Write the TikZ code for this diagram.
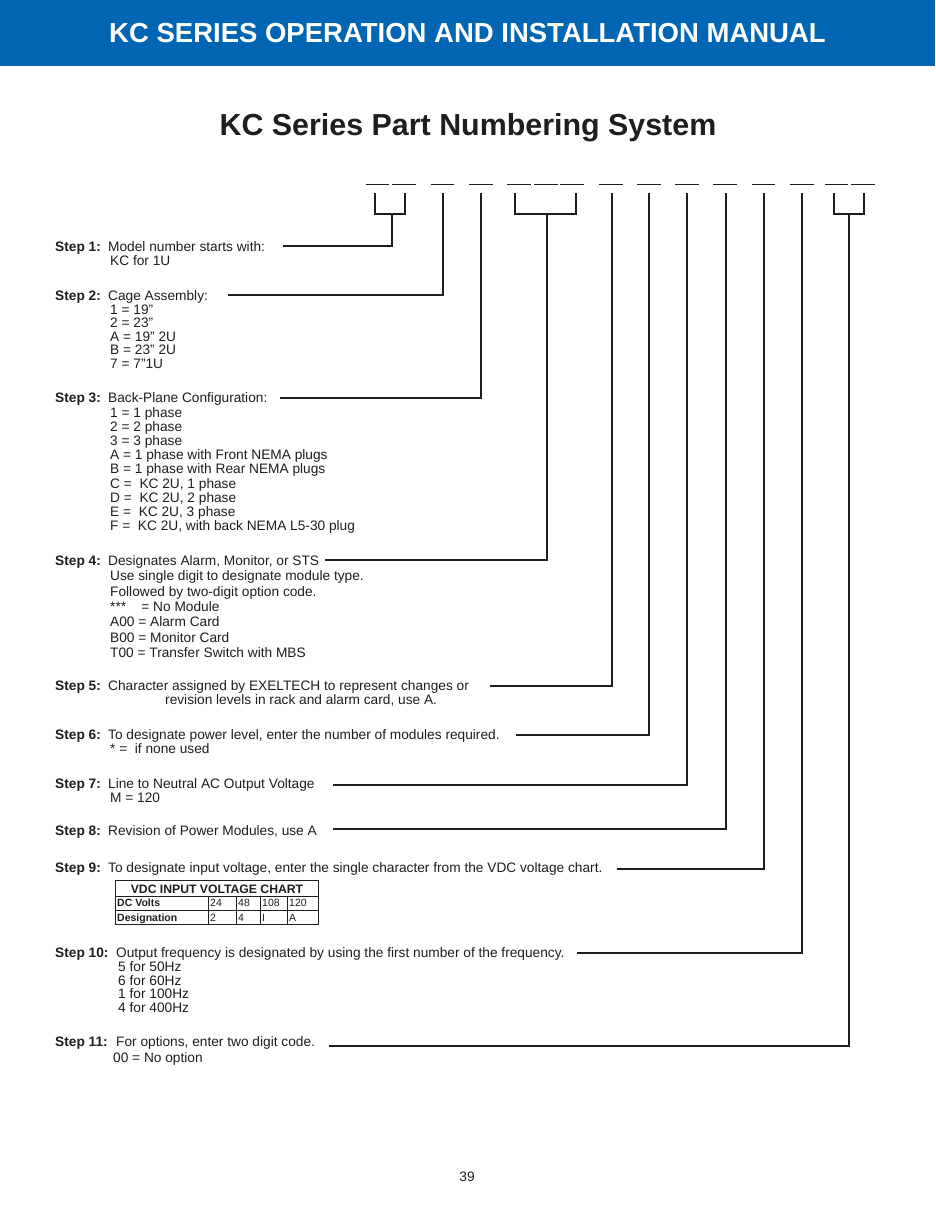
\documentclass[tikz,border=0pt]{standalone}
\usepackage{fontspec}
\setmainfont{Liberation Sans}
\definecolor{hdrblue}{RGB}{0,102,179}
\definecolor{ink}{RGB}{30,30,30}
\begin{document}
\begin{tikzpicture}[x=1pt,y=-1pt,
  txt/.style={anchor=base west,inner sep=0pt,font=\fontsize{13.7}{14}\selectfont,text=ink},
  lbl/.style={txt,font=\fontsize{13.7}{14}\selectfont\bfseries},
  conn/.style={draw=ink,line width=1.1pt},
  blank/.style={draw=ink,line width=1pt},
  tb/.style={anchor=base west,inner sep=0pt,font=\fontsize{10.5}{11}\selectfont,text=ink},
  tbb/.style={tb,font=\fontsize{10.5}{11}\selectfont\bfseries}]
\useasboundingbox (0,0) rectangle (935,1210);
\fill[white] (0,0) rectangle (935,1210);
\fill[hdrblue] (0,0) rectangle (935,66);
\node[inner sep=0pt,text=white,font=\fontsize{27.5}{29}\selectfont\bfseries] (hdr) at (467.5,33) {KC SERIES OPERATION AND INSTALLATION MANUAL};
\node[inner sep=0pt,text=ink,font=\fontsize{30.4}{32}\selectfont\bfseries] (title) at (468,128) {KC Series Part Numbering System};

% blanks
\foreach \a/\b [count=\i] in {366/389,392/416,431/454,469/493,507/531,534/558,560/584,599/623,637/661,675/699,713/737,752/775,790/814,825/848,851/875}
  \draw[blank] (\a,184) -- (\b,184);

% bracket tops and joints
\coordinate (b1L) at (375,193); \coordinate (b1R) at (405,193);
\coordinate (j1) at (392,214);
\coordinate (b2) at (443,193);
\coordinate (b3) at (481,193);
\coordinate (b4L) at (515,193); \coordinate (b4R) at (576,193);
\coordinate (j4) at (547,214);
\coordinate (b5) at (612,193);
\coordinate (b6) at (649,193);
\coordinate (b7) at (687,193);
\coordinate (b8) at (726,193);
\coordinate (b9) at (764,193);
\coordinate (b10) at (802,193);
\coordinate (b11L) at (834,193); \coordinate (b11R) at (864,193);
\coordinate (j11) at (849,214);

\draw[conn] (b1L) |- (j1) -| (b1R);
\draw[conn] (b4L) |- (j4) -| (b4R);
\draw[conn] (b11L) |- (j11) -| (b11R);

% line start coordinates
\coordinate (c1) at (283,246);
\coordinate (c2) at (228,295);
\coordinate (c3) at (280,398);
\coordinate (c4) at (325,560);
\coordinate (c5) at (490,686);
\coordinate (c6) at (516,735);
\coordinate (c7) at (333,785);
\coordinate (c8) at (333,829);
\coordinate (c9) at (617,869);
\coordinate (c10) at (577,953);
\coordinate (c11) at (329,1046);

\draw[conn] (c1) -| (j1);
\draw[conn] (c2) -| (b2);
\draw[conn] (c3) -| (b3);
\draw[conn] (c4) -| (j4);
\draw[conn] (c5) -| (b5);
\draw[conn] (c6) -| (b6);
\draw[conn] (c7) -| (b7);
\draw[conn] (c8) -| (b8);
\draw[conn] (c9) -| (b9);
\draw[conn] (c10) -| (b10);
\draw[conn] (c11) -| (j11);

% Step 1
\node[lbl] (l1) at (55,251) {Step 1:};
\node[txt] (s1) at (108,251) {Model number starts with:};
\node[txt] (s1a) at (110,265) {KC for 1U};
% Step 2
\node[lbl] (l2) at (55,300) {Step 2:};
\node[txt] (s2) at (108,300) {Cage Assembly:};
\node[txt] (s2a) at (110,314) {1 = 19”};
\node[txt] (s2b) at (110,327) {2 = 23”};
\node[txt] (s2c) at (110,341) {A = 19” 2U};
\node[txt] (s2d) at (110,354) {B = 23” 2U};
\node[txt] (s2e) at (110,368) {7 = 7”1U};
% Step 3
\node[lbl] (l3) at (55,402) {Step 3:};
\node[txt] (s3) at (108,402) {Back-Plane Configuration:};
\node[txt] (s3a) at (110,417) {1 = 1 phase};
\node[txt] (s3b) at (110,431) {2 = 2 phase};
\node[txt] (s3c) at (110,445) {3 = 3 phase};
\node[txt] (s3d) at (110,459) {A = 1 phase with Front NEMA plugs};
\node[txt] (s3e) at (110,473) {B = 1 phase with Rear NEMA plugs};
\node[txt] (s3f) at (110,488) {C =\ \ KC 2U, 1 phase};
\node[txt] (s3g) at (110,502) {D =\ \ KC 2U, 2 phase};
\node[txt] (s3h) at (110,516) {E =\ \ KC 2U, 3 phase};
\node[txt] (s3i) at (110,530) {F =\ \ KC 2U, with back NEMA L5-30 plug};
% Step 4
\node[lbl] (l4) at (55,565) {Step 4:};
\node[txt] (s4) at (108,565) {Designates Alarm, Monitor, or STS};
\node[txt] (s4a) at (110,580) {Use single digit to designate module type.};
\node[txt] (s4b) at (110,596) {Followed by two-digit option code.};
\node[txt] (s4c) at (110,611) {***\ \ \ \ = No Module};
\node[txt] (s4d) at (110,626) {A00 = Alarm Card};
\node[txt] (s4e) at (110,642) {B00 = Monitor Card};
\node[txt] (s4f) at (110,657) {T00 = Transfer Switch with MBS};
% Step 5
\node[lbl] (l5) at (55,690) {Step 5:};
\node[txt] (s5) at (108,690) {Character assigned by EXELTECH to represent changes or};
\node[txt] (s5a) at (165,704) {revision levels in rack and alarm card, use A.};
% Step 6
\node[lbl] (l6) at (55,739) {Step 6:};
\node[txt] (s6) at (108,739) {To designate power level, enter the number of modules required.};
\node[txt] (s6a) at (110,753) {* =\ \ if none used};
% Step 7
\node[lbl] (l7) at (55,788) {Step 7:};
\node[txt] (s7) at (108,788) {Line to Neutral AC Output Voltage};
\node[txt] (s7a) at (110,802) {M = 120};
% Step 8
\node[lbl] (l8) at (55,835) {Step 8:};
\node[txt] (s8) at (108,835) {Revision of Power Modules, use A};
% Step 9
\node[lbl] (l9) at (55,872) {Step 9:};
\node[txt] (s9) at (108,872) {To designate input voltage, enter the single character from the VDC voltage chart.};
% table
\draw[line width=0.8pt,draw=ink] (115,880) rectangle (318,924);
\draw[line width=0.8pt,draw=ink] (115,896) -- (318,896) (115,910) -- (318,910);
\foreach \x in {208,236,260,287} \draw[line width=0.8pt,draw=ink] (\x,896) -- (\x,924);
\node[inner sep=0pt,font=\fontsize{12.2}{13}\selectfont\bfseries,text=ink,anchor=base] (th) at (217,893) {VDC INPUT VOLTAGE CHART};
\node[tbb] (tr1) at (117,906.5) {DC Volts};
\node[tbb] (tr2) at (117,921) {Designation};
\node[tb] (v1) at (210,906.5) {24};
\node[tb] (v2) at (238,906.5) {48};
\node[tb] (v3) at (262,906.5) {108};
\node[tb] (v4) at (289,906.5) {120};
\node[tb] (d1) at (210,921) {2};
\node[tb] (d2) at (238,921) {4};
\node[tb] (d3) at (262,921) {I};
\node[tb] (d4) at (289,921) {A};
% Step 10
\node[lbl] (l10) at (55,957) {Step 10:};
\node[txt] (s10) at (116,957) {Output frequency is designated by using the first number of the frequency.};
\node[txt] (s10a) at (118,971) {5 for 50Hz};
\node[txt] (s10b) at (118,985) {6 for 60Hz};
\node[txt] (s10c) at (118,998) {1 for 100Hz};
\node[txt] (s10d) at (118,1012) {4 for 400Hz};
% Step 11
\node[lbl] (l11) at (55,1046) {Step 11:};
\node[txt] (s11) at (116,1046) {For options, enter two digit code.};
\node[txt] (s11a) at (113,1062) {00 = No option};
% page number
\node[inner sep=0pt,font=\fontsize{13.7}{14}\selectfont,text=ink] (pg) at (467,1177) {39};
\end{tikzpicture}
\end{document}
